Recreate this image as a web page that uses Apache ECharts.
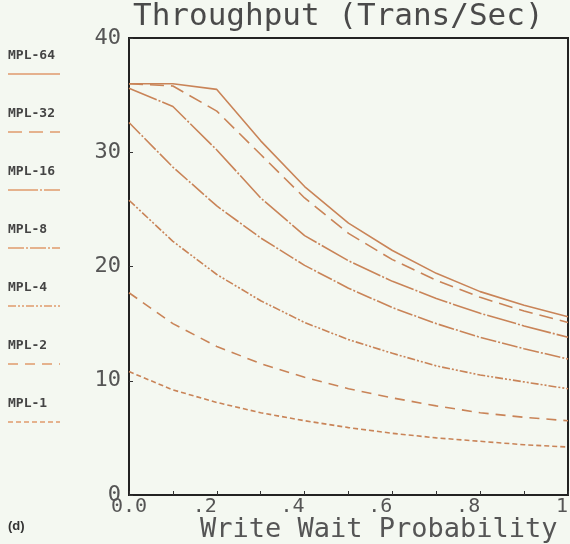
<!DOCTYPE html>
<html>
<head>
<meta charset="utf-8">
<script src="https://cdn.jsdelivr.net/npm/echarts@6/dist/echarts.min.js"></script>
<style>
html,body{margin:0;padding:0;background:#f4f8f1;}
#chart{width:570px;height:544px;}
</style>
</head>
<body>
<div id="chart"></div>
<script>
var xValues = [0, 0.1, 0.2, 0.3, 0.4, 0.5, 0.6, 0.7, 0.8, 0.9, 1.0];
var seriesNames = ['MPL-64', 'MPL-32', 'MPL-16', 'MPL-8', 'MPL-4', 'MPL-2', 'MPL-1'];
var mpl64 = [36.0, 36.0, 35.5, 31.0, 27.0, 23.8, 21.4, 19.4, 17.8, 16.6, 15.6];
var mpl32 = [36.0, 35.8, 33.6, 29.8, 26.0, 22.9, 20.6, 18.8, 17.3, 16.1, 15.1];
var mpl16 = [35.6, 34.0, 30.2, 26.0, 22.7, 20.5, 18.7, 17.2, 15.9, 14.8, 13.8];
var mpl8  = [32.6, 28.7, 25.3, 22.5, 20.1, 18.1, 16.4, 15.0, 13.8, 12.8, 11.9];
var mpl4  = [25.8, 22.2, 19.3, 17.0, 15.1, 13.6, 12.4, 11.3, 10.5, 9.9, 9.3];
var mpl2  = [17.7, 15.0, 13.0, 11.5, 10.3, 9.3, 8.5, 7.8, 7.2, 6.8, 6.5];
var mpl1  = [10.8, 9.2, 8.1, 7.2, 6.5, 5.9, 5.4, 5.0, 4.7, 4.4, 4.2];
var seriesValues = [mpl64, mpl32, mpl16, mpl8, mpl4, mpl2, mpl1];
var yTickLabels = ['0', '10', '20', '30', '40'];
var xTickLabels = {0: '0.0', 2: '.2', 4: '.4', 6: '.6', 8: '.8', 10: '1'};
var titleText = 'Throughput (Trans/Sec)';
var xAxisTitle = 'Write Wait Probability';
var panelLabel = '(d)';

var lineColor = '#c98458';
var dashes = ['solid', [14, 7], [30, 2, 2, 2], [16, 2, 2, 2], [8, 2, 2, 2, 2, 2], [10, 7], [5, 3]];
var mono = '"DejaVu Sans Mono", "Liberation Mono", monospace';

var series = seriesNames.map(function (name, i) {
  return {
    name: name,
    type: 'line',
    symbol: 'none',
    animation: false,
    lineStyle: {color: lineColor, width: 1.6, type: dashes[i]},
    data: xValues.map(function (x, k) { return [x, seriesValues[i][k]]; })
  };
});

var graphics = [];
seriesNames.forEach(function (name, i) {
  var y0 = 57 + i * 58;
  graphics.push({
    type: 'text', left: 8, top: y0 - 8,
    style: {text: name, fill: '#444', font: 'bold 13px "DejaVu Sans Mono", monospace'}
  });
  graphics.push({
    type: 'line', shape: {x1: 8, y1: y0 + 17, x2: 60, y2: y0 + 17},
    style: {stroke: '#e09a6c', lineWidth: 1.6, lineDash: dashes[i] === 'solid' ? null : dashes[i]}
  });
});
graphics.push({
  type: 'text', left: 133, top: 1,
  style: {text: titleText, fill: '#4a4a4a', font: '31px ' + mono}
});
graphics.push({
  type: 'text', left: 200, top: 516,
  style: {text: xAxisTitle, fill: '#555', font: '27px ' + mono}
});
graphics.push({
  type: 'text', left: 8, top: 520,
  style: {text: panelLabel, fill: '#333', font: 'bold 13px "Liberation Sans", sans-serif'}
});

var chart = echarts.init(document.getElementById('chart'));
chart.setOption({
  backgroundColor: '#f4f8f1',
  animation: false,
  grid: {left: 129, right: 2, top: 38, bottom: 49, show: true, borderColor: '#222', borderWidth: 2,
         containLabel: false, outerBoundsMode: 'none'},
  xAxis: {
    type: 'value', min: 0, max: 1, interval: 0.1,
    axisLine: {show: true, lineStyle: {color: '#222', width: 2}},
    axisTick: {show: true, inside: true, length: 4, lineStyle: {color: '#333'}},
    splitLine: {show: false},
    axisLabel: {
      margin: 2, fontFamily: 'DejaVu Sans Mono', fontSize: 20, color: '#555',
      align: 'right', alignMinLabel: 'center', alignMaxLabel: 'right',
      formatter: function (v) {
        var k = Math.round(v * 10);
        return xTickLabels[k] !== undefined ? xTickLabels[k] : '';
      }
    }
  },
  yAxis: {
    type: 'value', min: 0, max: 40, interval: 10,
    axisLine: {show: true, lineStyle: {color: '#222', width: 2}},
    axisTick: {show: true, inside: true, length: 4, lineStyle: {color: '#333'}},
    splitLine: {show: false},
    axisLabel: {
      margin: 8, fontFamily: 'DejaVu Sans Mono', fontSize: 22, color: '#555',
      formatter: function (v) { return yTickLabels[Math.round(v / 10)]; }
    }
  },
  series: series,
  graphic: graphics
});
</script>
</body>
</html>
